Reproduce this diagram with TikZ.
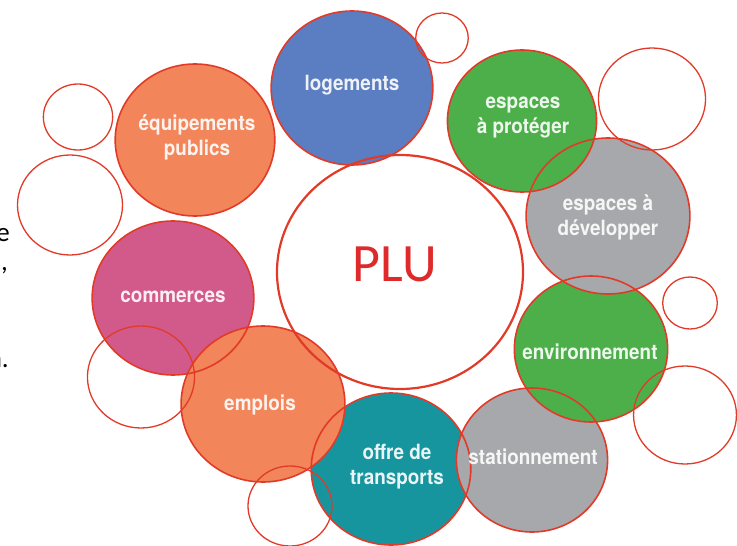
\documentclass[tikz,border=0pt]{standalone}
\usepackage{fontspec}
\setmainfont{Carlito}
\newfontfamily\bullefont[FakeStretch=0.9]{TeX Gyre Heros}
\usetikzlibrary{positioning}
\definecolor{rouge}{HTML}{E23A28}
\definecolor{rougeplu}{HTML}{DE2A2A}
\definecolor{orangeb}{HTML}{F28559}
\definecolor{bleu}{HTML}{5A7EC1}
\definecolor{vert}{HTML}{4DAF4A}
\definecolor{gris}{HTML}{A6A8AB}
\definecolor{rose}{HTML}{D25A8B}
\definecolor{bleucanard}{HTML}{17959F}

% centre x/centre y/rayon vertical/couleur
\newcommand\bulles{352/88/77/bleu, 195/140/76/orangeb, 173/298/77/rose,
  391/469/76/bleucanard, 263/404/78/orangeb, 532/460/72/gris,
  591/349/73/vert, 608/216/78/gris, 522/121/71/vert}

\begin{document}
\begin{tikzpicture}[x=1pt,y=-1pt,
  contour/.style={draw=rouge, line width=1.6pt},
  etiquette/.style={font=\bullefont\fontsize{21}{25}\selectfont\bfseries, text=white, text opacity=0.9, align=center, inner sep=0pt},
  fragment/.style={font=\fontsize{27}{32}\selectfont, anchor=base east, inner sep=0pt}]
\useasboundingbox (0,0) rectangle (737,546);
\clip (0,0) rectangle (737,546);

% bout de texte a gauche
\node[fragment] (ligne1) at (10,241) {e};
\node[fragment] (ligne2) at (8,270) {,};
\node[fragment] (ligne3) at (9,367) {n.};

% grand cercle
\fill[white] (400,272) ellipse[x radius=123, y radius=117];

% bulles de couleur
\foreach \cx/\cy/\rr/\coul in \bulles
  \fill[fill=\coul] (\cx,\cy) ellipse[x radius=1.05*\rr, y radius=\rr];

% contours par dessus
\draw[contour, line width=2.2pt] (400,272) ellipse[x radius=123, y radius=117];
\foreach \cx/\cy/\rr/\coul in \bulles
  \draw[contour] (\cx,\cy) ellipse[x radius=1.05*\rr, y radius=\rr];

% cercles vides
\foreach \cx/\cy/\rr in {442/38/25, 652/99/51, 690/303/26, 685/415/49,
                      290/506/40, 141/377/51, 70/205/50, 78/117/33}
  \draw[contour, line width=1.3pt] (\cx,\cy) ellipse[x radius=1.05*\rr, y radius=\rr];

% textes
\node[font=\fontsize{54}{60}\selectfont, text=rougeplu, inner sep=0pt] (plu) at (395,264) {PLU};
\node[etiquette] (logements) at (352,85) {logements};
\node[etiquette] (equipements) at (197,137) {équipements\\publics};
\node[etiquette] (commerces) at (173,297) {commerces};
\node[etiquette] (offre) at (397,467) {offre de\\transports};
\node[etiquette] (emplois) at (260,405) {emplois};
\node[etiquette] (stationnement) at (533,457) {stationnement};
\node[etiquette] (environnement) at (590,352) {environnement};
\node[etiquette] (developper) at (608,217) {espaces à\\développer};
\node[etiquette] (proteger) at (523,118) {espaces\\à protéger};
\end{tikzpicture}
\end{document}
